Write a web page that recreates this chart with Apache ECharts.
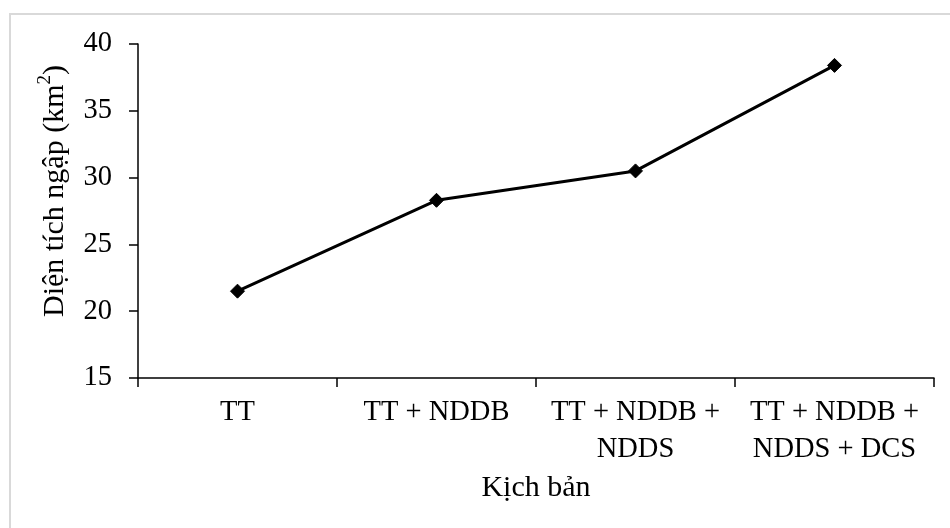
<!DOCTYPE html>
<html>
<head>
<meta charset="utf-8">
<script src="https://cdn.jsdelivr.net/npm/echarts@6/dist/echarts.min.js"></script>
<style>
html,body{margin:0;padding:0;background:#fff;}
#chart{width:950px;height:528px;}
</style>
</head>
<body>
<div id="chart"></div>
<script>
var categories = ['TT', 'TT + NDDB', 'TT + NDDB +\nNDDS', 'TT + NDDB +\nNDDS + DCS'];
var values = [21.5, 28.3, 30.5, 38.4];
var yMin = 15, yMax = 40, yInterval = 5;
var xAxisName = 'Kịch bản';
var yAxisNameMain = 'Diện tích ngập (km';
var yAxisNameSup = '2';

var FONT = '"Liberation Serif", "Times New Roman", serif';
var chart = echarts.init(document.getElementById('chart'), null, {renderer: 'canvas'});
chart.setOption({
  animation: false,
  backgroundColor: '#fff',
  graphic: [{
    type: 'rect',
    shape: {x: 10, y: 14, width: 960, height: 540},
    style: {fill: 'none', stroke: '#d9d9d9', lineWidth: 2},
    silent: true
  }],
  grid: {left: 138, right: 16, top: 44, bottom: 150, containLabel: false},
  xAxis: {
    type: 'category',
    data: categories,
    boundaryGap: true,
    name: xAxisName,
    nameLocation: 'middle',
    nameGap: 95,
    nameTextStyle: {fontFamily: FONT, fontSize: 30, color: '#000'},
    axisLine: {lineStyle: {color: '#000', width: 1.5}},
    axisTick: {show: true, length: 9, lineStyle: {color: '#000', width: 1.5}},
    axisLabel: {fontFamily: FONT, fontSize: 28.5, color: '#000', margin: 16, lineHeight: 37, interval: 0},
    splitLine: {show: false}
  },
  yAxis: {
    type: 'value',
    min: yMin, max: yMax, interval: yInterval,
    name: '{a|' + yAxisNameMain + '}{s|' + yAxisNameSup + '}{a|)}',
    nameLocation: 'middle',
    nameGap: 68,
    nameRotate: 90,
    nameTextStyle: {
      fontFamily: FONT, fontSize: 30, color: '#000',
      padding: [0, 0, 0, 40],
      rich: {
        a: {fontFamily: FONT, fontSize: 30, color: '#000', lineHeight: 34, verticalAlign: 'bottom'},
        s: {fontFamily: FONT, fontSize: 19, color: '#000', lineHeight: 34, verticalAlign: 'top'}
      }
    },
    axisLine: {show: true, lineStyle: {color: '#000', width: 1.5}},
    axisTick: {show: true, length: 9, lineStyle: {color: '#000', width: 1.5}},
    axisLabel: {fontFamily: FONT, fontSize: 28.5, color: '#000', margin: 26},
    splitLine: {show: false}
  },
  series: [{
    type: 'line',
    data: values,
    symbol: 'diamond',
    symbolSize: 14,
    lineStyle: {color: '#000', width: 3},
    itemStyle: {color: '#000', borderColor: '#000'},
    label: {show: false}
  }]
});
</script>
</body>
</html>
